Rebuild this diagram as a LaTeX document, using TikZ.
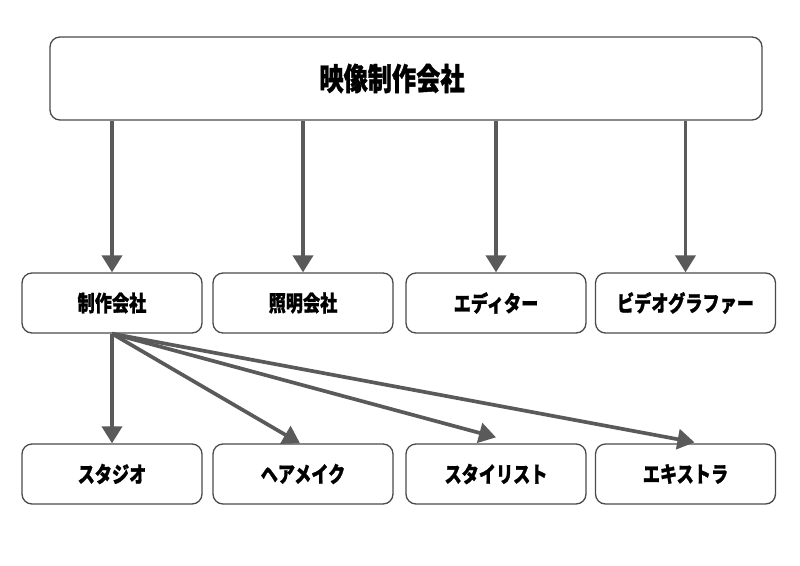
\documentclass[tikz,border=0pt]{standalone}
\usepackage{fontspec}
\newfontfamily\jpfont{Noto Sans CJK JP}[BoldFeatures={FakeBold=1.2}]
\usetikzlibrary{arrows.meta,calc}
\definecolor{linegray}{HTML}{5A5A5A}
\definecolor{boxgray}{HTML}{4A4A4A}
\newcommand{\jpsq}[1]{\scalebox{0.78}[1]{#1}}
\tikzset{
  box/.style={draw=boxgray,line width=1.3pt,rounded corners=10pt,fill=white,
    minimum width=180pt,minimum height=60pt,inner sep=0pt,
    font=\jpfont\bfseries\fontsize{22}{22}\selectfont},
  topbox/.style={box,minimum width=712pt,minimum height=83pt,
    font=\jpfont\bfseries\fontsize{31}{31}\selectfont},
  arr/.style={draw=linegray,line width=3.7pt,-{Triangle[length=17pt,width=20pt]}},
}
\begin{document}
\begin{tikzpicture}[x=1pt,y=-1pt]
\useasboundingbox (0,0) rectangle (800,565);
\node[topbox] (top) at (406,78.5) {\hspace*{-28pt}\jpsq{映像制作会社}};
\node[box] (a1) at (112,303) {\jpsq{制作会社}};
\node[box] (a2) at (303,303) {\jpsq{照明会社}};
\node[box] (a3) at (496,303) {\jpsq{エディター}};
\node[box] (a4) at (685.5,303) {\jpsq{ビデオグラファー}};
\node[box] (b1) at (112,474) {\jpsq{スタジオ}};
\node[box] (b2) at (303,474) {\jpsq{ヘアメイク}};
\node[box] (b3) at (496,474) {\jpsq{スタイリスト}};
\node[box] (b4) at (685.5,474) {\jpsq{エキストラ}};
\foreach \n in {a1,a2,a3,a4}{
  \draw[arr] (\n.north |- top.south) -- (\n.north);
}
\draw[arr] (a1.south) -- (b1.north);
\draw[arr] (a1.south) -- ([xshift=-3pt]b2.north);
\draw[arr] (a1.south) -- ([yshift=6pt]b3.north);
\draw[arr] (a1.south) -- ([xshift=9pt,yshift=1pt]b4.north);
\end{tikzpicture}
\end{document}
